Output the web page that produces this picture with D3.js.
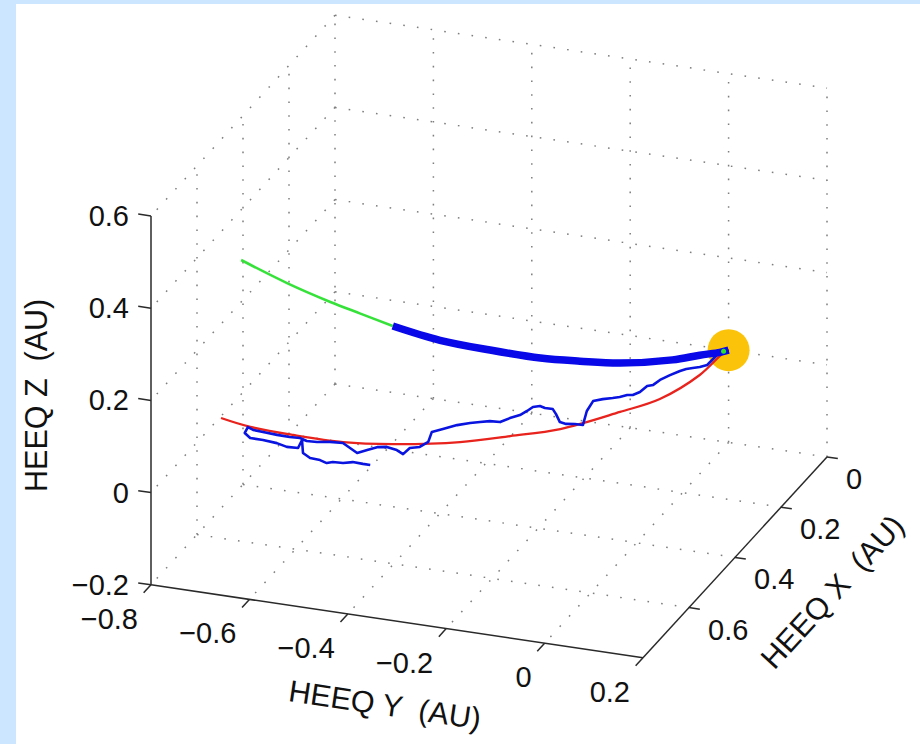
<!DOCTYPE html>
<html>
<head>
<meta charset="utf-8">
<style>
body { margin: 0; background: #cce6ff; }
svg { display: block; }
text { font-family: "Liberation Sans", Arial, Helvetica, sans-serif; fill: #111; }
</style>
</head>
<body>
<svg width="920" height="744"></svg>
<script src="https://cdn.jsdelivr.net/npm/d3@7"></script>
<script>
// axis ticks (HEEQ, AU)
var xTicks = [0, 0.2, 0.4, 0.6];
var yTicks = [-0.8, -0.6, -0.4, -0.2, 0, 0.2];
var zTicks = [-0.2, 0, 0.2, 0.4, 0.6];

// upper track [x, y, z], outer end -> Sun; green up to junction, thick blue after
var upperPath = [
  [0.513, -0.751, 0.356], [0.523, -0.653, 0.327], [0.523, -0.565, 0.300],
  [0.517, -0.508, 0.281], [0.504, -0.447, 0.256], [0.476, -0.364, 0.223],
  [0.434, -0.282, 0.192], [0.384, -0.203, 0.160], [0.334, -0.146, 0.135],
  [0.273, -0.093, 0.106], [0.173, -0.033, 0.068], [0.102, -0.011, 0.043],
  [0.025, -0.006, 0.008], [0, 0, 0]
];
var junction = 4;

// ecliptic spiral (red), Sun -> outer end
var redPath = [
  [0, 0, 0], [0.013, -0.005, 0], [0.102, -0.011, 0], [0.207, -0.043, 0],
  [0.273, -0.093, 0], [0.364, -0.172, 0], [0.415, -0.250, 0], [0.462, -0.330, 0],
  [0.504, -0.447, 0], [0.523, -0.539, 0], [0.524, -0.640, 0], [0.518, -0.730, 0],
  [0.502, -0.797, 0]
];

// random-walk field line (thin blue), Sun -> end
var walkPath = [
  [0, 0, 0], [0.023, -0.013, 0], [0.063, -0.014, 0], [0.074, -0.024, 0],
  [0.081, -0.035, 0], [0.088, -0.045, 0], [0.098, -0.053, 0], [0.118, -0.064, 0],
  [0.140, -0.074, 0], [0.161, -0.078, 0], [0.168, -0.087, 0], [0.193, -0.090, 0],
  [0.207, -0.098, 0], [0.210, -0.108, 0], [0.221, -0.118, 0], [0.228, -0.129, 0],
  [0.237, -0.145, 0], [0.249, -0.159, 0], [0.287, -0.154, 0], [0.338, -0.138, 0],
  [0.339, -0.154, 0], [0.343, -0.170, 0], [0.340, -0.184, 0], [0.314, -0.204, 0],
  [0.298, -0.218, 0], [0.298, -0.234, 0], [0.294, -0.246, 0], [0.301, -0.257, 0],
  [0.318, -0.261, 0], [0.336, -0.267, 0], [0.352, -0.280, 0], [0.371, -0.291, 0],
  [0.373, -0.311, 0], [0.381, -0.327, 0], [0.390, -0.343, 0], [0.404, -0.363, 0],
  [0.425, -0.382, 0], [0.441, -0.397, 0], [0.478, -0.387, 0], [0.500, -0.394, 0],
  [0.509, -0.410, 0], [0.534, -0.412, 0], [0.523, -0.430, 0], [0.517, -0.453, 0],
  [0.523, -0.470, 0], [0.538, -0.483, 0], [0.554, -0.496, 0], [0.540, -0.517, 0],
  [0.526, -0.538, 0], [0.529, -0.563, 0], [0.536, -0.586, 0], [0.538, -0.606, 0],
  [0.531, -0.623, 0], [0.533, -0.643, 0], [0.532, -0.669, 0], [0.529, -0.699, 0],
  [0.527, -0.720, 0], [0.520, -0.734, 0], [0.542, -0.730, 0], [0.557, -0.712, 0],
  [0.557, -0.686, 0], [0.561, -0.656, 0], [0.569, -0.632, 0], [0.567, -0.610, 0],
  [0.537, -0.616, 0], [0.582, -0.593, 0], [0.596, -0.572, 0], [0.598, -0.551, 0],
  [0.605, -0.534, 0], [0.598, -0.525, 0], [0.596, -0.505, 0], [0.588, -0.489, 0],
  [0.589, -0.468, 0], [0.589, -0.453, 0]
];

var sunPos = [0, 0, 0];

var svg = d3.select("svg");
svg.append("rect")
    .attr("x", 16).attr("y", 4)
    .attr("width", 904).attr("height", 740)
    .attr("fill", "#fff");

// orthographic 3d view: each axis scale returns a screen offset vector
var corner = [335, 384]; // screen point of (x=0, y=-0.8, z=-0.2)
var X = d3.scaleLinear().domain([0, 0.8]).range([[0, 0], [-184, 200.8]]);
var Y = d3.scaleLinear().domain([-0.8, 0.2]).range([[0, 0], [492, 73]]);
var Z = d3.scaleLinear().domain([-0.2, 0.6]).range([[0, 0], [0, -368.8]]);
function proj(p) {
  var a = X(p[0]).slice(), b = Y(p[1]).slice(), c = Z(p[2]).slice();
  return [corner[0] + a[0] + b[0] + c[0], corner[1] + a[1] + b[1] + c[1]];
}

// grid segments on the three back planes
var grid = [];
yTicks.forEach(function(y) { grid.push([[0, y, -0.2], [0, y, 0.6]]); });
zTicks.forEach(function(z) { grid.push([[0, -0.8, z], [0, 0.2, z]]); });
xTicks.filter(function(x) { return x > 0; }).forEach(function(x) {
  grid.push([[x, -0.8, -0.2], [x, -0.8, 0.6]]);
  grid.push([[x, -0.8, -0.2], [x, 0.2, -0.2]]);
});
zTicks.forEach(function(z) { grid.push([[0, -0.8, z], [0.8, -0.8, z]]); });
yTicks.filter(function(y) { return y > -0.8 && y < 0.2; }).forEach(function(y) {
  grid.push([[0, y, -0.2], [0.8, y, -0.2]]);
});

svg.append("g").selectAll("line")
  .data(grid)
  .enter().append("line")
    .attr("x1", function(d) { return proj(d[0])[0]; })
    .attr("y1", function(d) { return proj(d[0])[1]; })
    .attr("x2", function(d) { return proj(d[1])[0]; })
    .attr("y2", function(d) { return proj(d[1])[1]; })
    .attr("stroke", "#7e7e7e")
    .attr("stroke-width", 1.5)
    .attr("stroke-dasharray", "1.6,12.2");

// axes
var axes = [
  [[0.8, -0.8, -0.2], [0.8, -0.8, 0.6]],
  [[0.8, -0.8, -0.2], [0.8, 0.2, -0.2]],
  [[0, 0.2, -0.2], [0.8, 0.2, -0.2]]
];
var ticks = [];
zTicks.forEach(function(z) { ticks.push([[0.8, -0.8, z], [0.8, -0.826, z]]); });
yTicks.forEach(function(y) { ticks.push([[0.8, y, -0.2], [0.832, y, -0.2]]); });
xTicks.forEach(function(x) { ticks.push([[x, 0.2, -0.2], [x, 0.222, -0.2]]); });

svg.append("g").selectAll("line")
  .data(axes.concat(ticks))
  .enter().append("line")
    .attr("x1", function(d) { return proj(d[0])[0]; })
    .attr("y1", function(d) { return proj(d[0])[1]; })
    .attr("x2", function(d) { return proj(d[1])[0]; })
    .attr("y2", function(d) { return proj(d[1])[1]; })
    .attr("stroke", "#2a2a2a")
    .attr("stroke-width", 1.5);

var fmt = function(v) { return v === 0 ? "0" : d3.format(".1f")(v).replace("-", "\u2212"); };

// tick labels
svg.append("g").selectAll("text")
  .data(zTicks)
  .enter().append("text")
    .attr("x", function(d) { return proj([0.8, -0.8, d])[0] - 22; })
    .attr("y", function(d) { return proj([0.8, -0.8, d])[1]; })
    .attr("text-anchor", "end")
    .attr("dominant-baseline", "central")
    .attr("font-size", 29)
    .text(fmt);
svg.append("g").selectAll("text")
  .data(yTicks)
  .enter().append("text")
    .attr("x", function(d) { return proj([0.8, d, -0.2])[0] - 13; })
    .attr("y", function(d) { return proj([0.8, d, -0.2])[1] + 34; })
    .attr("text-anchor", "end")
    .attr("dominant-baseline", "central")
    .attr("font-size", 29)
    .text(fmt);
svg.append("g").selectAll("text")
  .data(xTicks)
  .enter().append("text")
    .attr("x", function(d) { return proj([d, 0.2, -0.2])[0] + 19; })
    .attr("y", function(d) { return proj([d, 0.2, -0.2])[1] + 22; })
    .attr("text-anchor", "start")
    .attr("dominant-baseline", "central")
    .attr("font-size", 29)
    .text(fmt);

// axis titles
function title(p, dx, dy, angle, txt) {
  var s = proj(p);
  svg.append("text")
    .attr("transform", "translate(" + (s[0] + dx) + "," + (s[1] + dy) + ") rotate(" + angle + ")")
    .attr("text-anchor", "middle")
    .attr("dominant-baseline", "central")
    .attr("font-size", 30.5)
    .style("white-space", "pre")
    .text(txt);
}
title([0.8, -0.3, -0.2], -12, 83, 8.4, "HEEQ Y  (AU)");
title([0.8, -0.8, 0.2], -115, -5, -90, "HEEQ Z  (AU)");
title([0.4, 0.2, -0.2], 97, 34, -47.5, "HEEQ X  (AU)");

// Sun
var sunXY = proj(sunPos);
svg.append("circle")
    .attr("cx", sunXY[0]).attr("cy", sunXY[1])
    .attr("r", 21)
    .attr("fill", "#fbc40a");

var line = d3.line()
    .x(function(d) { return proj(d)[0]; })
    .y(function(d) { return proj(d)[1]; });
var smooth = d3.line()
    .x(function(d) { return proj(d)[0]; })
    .y(function(d) { return proj(d)[1]; })
    .curve(d3.curveCatmullRom);

svg.append("path")
    .attr("d", smooth(redPath))
    .attr("fill", "none")
    .attr("stroke", "#e8221c")
    .attr("stroke-width", 2.3);

svg.append("path")
    .attr("d", line(walkPath))
    .attr("fill", "none")
    .attr("stroke", "#0a14e0")
    .attr("stroke-width", 2.6)
    .attr("stroke-linejoin", "round");

svg.append("path")
    .attr("d", smooth(upperPath.slice(0, junction + 1)))
    .attr("fill", "none")
    .attr("stroke", "#36e23a")
    .attr("stroke-width", 2.6);

svg.append("path")
    .attr("d", smooth(upperPath.slice(junction)))
    .attr("fill", "none")
    .attr("stroke", "#0808e8")
    .attr("stroke-width", 7.5);

svg.append("circle")
    .attr("cx", sunXY[0] - 5).attr("cy", sunXY[1] + 1)
    .attr("r", 2.5)
    .attr("fill", "#2ee02e");
</script>
</body>
</html>
